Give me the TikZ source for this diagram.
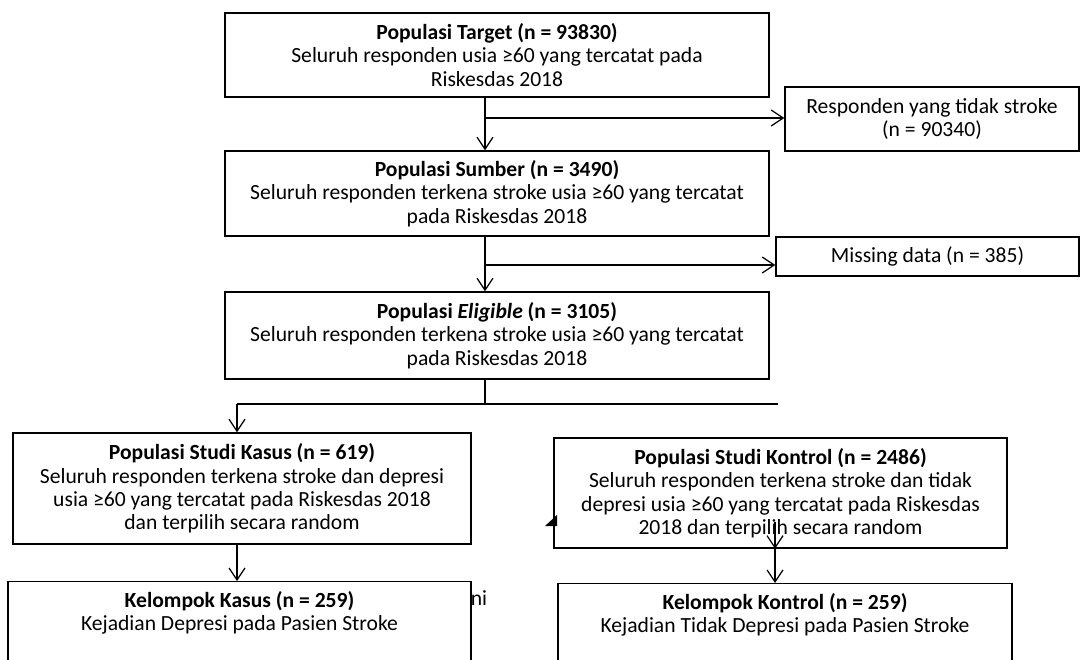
\documentclass[tikz,border=0pt]{standalone}
\usepackage{fontspec}
\setmainfont{Carlito}
\usetikzlibrary{arrows.meta}

\begin{document}
\begin{tikzpicture}[
    x = 0.75pt, y = -0.75pt,
    line width = 0.9pt,
    %
    box/.style = {draw,
      line width = 1.1pt,
      align = center,
      inner sep = 0pt,
      font = \fontsize{16.2}{17.6}\selectfont},
    %
    lowbox/.style = {box, anchor = north,
      inner ysep = 7pt,
      text depth = 60pt},
    %
    flow/.style = {-{Straight Barb[length = 9pt, width = 12pt]}},
    ]

    \useasboundingbox (0, 0) rectangle (1081, 660);

    \node at (497, 55)
    [box, name = tgt, minimum width = 408pt, minimum height = 63pt]
    {\textbf{Populasi Target (n = 93830)}\\
      Seluruh responden usia ≥60 yang tercatat pada\\
      Riskesdas 2018};

    \node at (932, 119)
    [box, name = rsp, minimum width = 220.5pt, minimum height = 48pt]
    {Responden yang tidak stroke\\ (n = 90340)};

    \node at (497, 193.5)
    [box, name = src, minimum width = 408pt, minimum height = 63.75pt]
    {\textbf{Populasi Sumber (n = 3490)}\\
      Seluruh responden terkena stroke usia ≥60 yang tercatat\\
      pada Riskesdas 2018};

    \node at (927.5, 256.5)
    [box, name = mis, minimum width = 227.25pt, minimum height = 29.25pt]
    {Missing data (n = 385)};

    \node at (497, 335.5)
    [box, name = elg, minimum width = 408pt, minimum height = 65.25pt]
    {\textbf{Populasi \textit{Eligible} (n = 3105)}\\
      Seluruh responden terkena stroke usia ≥60 yang tercatat\\
      pada Riskesdas 2018};

    \node at (242, 488.5)
    [box, name = kas, minimum width = 343.5pt, minimum height = 83.25pt]
    {\textbf{Populasi Studi Kasus (n = 619)}\\
      Seluruh responden terkena stroke dan depresi\\
      usia ≥60 yang tercatat pada Riskesdas 2018\\
      dan terpilih secara random};

    \node at (780.5, 493)
    [box, name = kon, minimum width = 339.75pt, minimum height = 82.5pt]
    {\textbf{Populasi Studi Kontrol (n = 2486)}\\
      Seluruh responden terkena stroke dan tidak\\
      depresi usia ≥60 yang tercatat pada Riskesdas\\
      2018 dan terpilih secara random};

    \node at (239.5, 581)
    [lowbox, name = kks, minimum width = 347.25pt]
    {\textbf{Kelompok Kasus (n = 259)}\\
      Kejadian Depresi pada Pasien Stroke};

    \node at (785, 583)
    [lowbox, name = kko, minimum width = 340.5pt]
    {\textbf{Kelompok Kontrol (n = 259)}\\
      Kejadian Tidak Depresi pada Pasien Stroke};

    \node at (479, 598)
    [name = frag, inner sep = 0pt, font = \fontsize{16.2}{17.6}\selectfont]
    {ni};

    % excluded
    \coordinate (j1) at (485, 118);
    \draw [flow] (tgt.south -| j1) -- (src.north -| j1);
    \draw [flow] (j1) -- (j1 -| rsp.west);

    \coordinate (j2) at (485, 265);
    \draw [flow] (src.south -| j2) -- (elg.north -| j2);
    \draw [flow] (j2) -- (j2 -| mis.west);

    % split
    \coordinate (j3) at (485, 404);
    \coordinate (sl) at (237, 404);
    \coordinate (sr) at (778, 404);
    \draw (elg.south -| j3) -- (j3);
    \draw (sl) -- (sr);
    \draw [flow] (sl) -- (sl |- kas.north);
    \draw [flow] (kas.south -| sl) -- (kks.north -| sl);

    \coordinate (sk) at (775, 522);
    \draw [flow] (sk) -- (sk |- kon.south);
    \draw [flow] (kon.south -| sk) -- (kko.north -| sk);

    \fill (545, 526) -- (557, 515) -- (557, 526) -- cycle;

  \end{tikzpicture}
\end{document}
